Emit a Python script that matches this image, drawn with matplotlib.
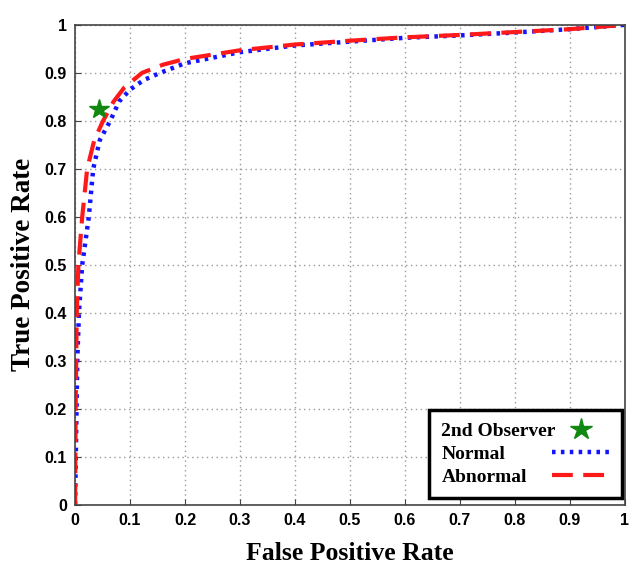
import matplotlib
matplotlib.use('Agg')
import matplotlib.pyplot as plt
from matplotlib.lines import Line2D

# ROC curves
normal_fpr = [0, 0.002, 0.004, 0.007, 0.013, 0.025, 0.033, 0.045, 0.064, 0.08, 0.1,
              0.125, 0.155, 0.2, 0.3, 0.4, 0.5, 0.6, 0.7, 0.8, 0.9, 1.0]
normal_tpr = [0, 0.15, 0.3, 0.4, 0.5, 0.6, 0.7, 0.76, 0.8, 0.84, 0.865,
              0.885, 0.9, 0.92, 0.943, 0.957, 0.965, 0.973, 0.978, 0.984, 0.991, 1.0]

abnormal_fpr = [0, 0.001, 0.003, 0.006, 0.013, 0.022, 0.035, 0.051, 0.07, 0.09, 0.122,
                0.16, 0.2, 0.3, 0.4, 0.5, 0.6, 0.7, 0.8, 0.9, 1.0]
abnormal_tpr = [0, 0.2, 0.4, 0.5, 0.6, 0.7, 0.76, 0.8, 0.84, 0.87, 0.9,
                0.917, 0.929, 0.947, 0.959, 0.967, 0.974, 0.979, 0.985, 0.991, 1.0]

observer_fpr = [0.044]
observer_tpr = [0.825]

ticks = [i / 10 for i in range(11)]
tick_labels = ['0', '0.1', '0.2', '0.3', '0.4', '0.5', '0.6', '0.7', '0.8', '0.9', '1']

fig = plt.figure(figsize=(6.31, 5.65), dpi=100)
ax = fig.add_axes([0.119, 0.107, 0.871, 0.849])

ax.plot(normal_fpr, normal_tpr, color='#1414ff', linestyle=(0, (0.8, 1.2)), lw=3.2)
ax.plot(abnormal_fpr, abnormal_tpr, color='#ff1a1a', linestyle=(0, (5, 2.5)), lw=3)
ax.plot(observer_fpr, observer_tpr, marker='*', color='#118811', markersize=15,
        linestyle='none')

ax.set_xlim(0, 1)
ax.set_ylim(0, 1)
ax.set_xticks(ticks)
ax.set_yticks(ticks)
ax.set_xticklabels(tick_labels, fontfamily='Liberation Sans', fontweight='bold', fontsize=11.5)
ax.set_yticklabels(tick_labels, fontfamily='Liberation Sans', fontweight='bold', fontsize=11.5)
ax.tick_params(direction='in', length=4, color='#444444', pad=6)
ax.grid(True, color='#999999', linestyle=(0, (1, 2.5)), lw=1)
for s in ax.spines.values():
    s.set_color('#444444')
    s.set_linewidth(1.2)

ax.set_xlabel('False Positive Rate', fontfamily='Liberation Serif', fontweight='bold',
              fontsize=18.5, labelpad=10)
ax.set_ylabel('True Positive Rate', fontfamily='Liberation Serif', fontweight='bold',
              fontsize=19.5, labelpad=6)

handles = [
    Line2D([], [], marker='*', color='#118811', markersize=16, linestyle='none'),
    Line2D([], [], color='#1414ff', linestyle=(0, (0.8, 1.2)), lw=3.2),
    Line2D([], [], color='#ff1a1a', linestyle=(0, (5, 2.5)), lw=3),
]
leg = ax.legend(handles, ['2nd Observer', 'Normal', 'Abnormal'], loc='lower right',
                bbox_to_anchor=(0.996, 0.014), markerfirst=False, fancybox=False,
                framealpha=1, edgecolor='black', handlelength=3.0, handletextpad=1.0,
                labelspacing=0.28, borderpad=0.62, borderaxespad=0,
                prop={'family': 'Liberation Serif', 'weight': 'bold', 'size': 14})
leg.get_frame().set_linewidth(2.5)
# text flush left, handles flush right, as in the original
for col in leg._legend_handle_box.get_children():
    col.align = 'left'
    for row in col.get_children():
        row.mode = 'expand'
        row.width = 169

fig.savefig('out.png', dpi=100)
